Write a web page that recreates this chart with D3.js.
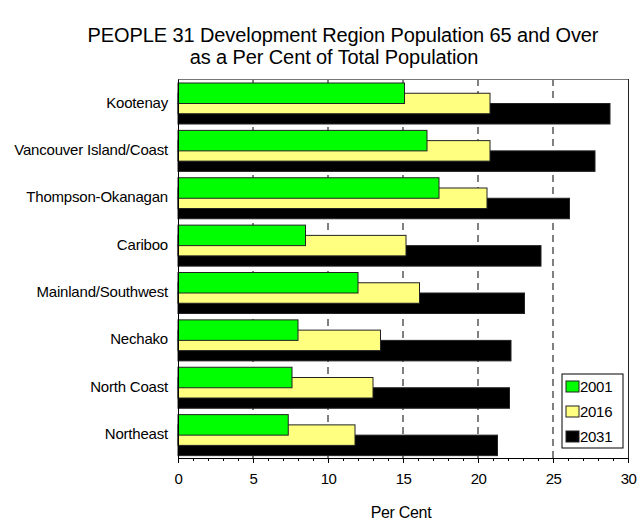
<!DOCTYPE html>
<html><head><meta charset="utf-8">
<script src="https://cdn.jsdelivr.net/npm/d3@7"></script>
<style>body{margin:0;background:#fff}svg{display:block;font-family:"Liberation Sans",Arial,sans-serif}</style>
</head><body><svg id="c" width="637" height="521"></svg>
<script>
const categories = ["Kootenay","Vancouver Island/Coast","Thompson-Okanagan","Cariboo","Mainland/Southwest","Nechako","North Coast","Northeast"];
const seriesNames = ["2001","2016","2031"];
const v2001 = [15.1,16.6,17.4,8.5,12.0,8.0,7.6,7.35];
const v2016 = [20.8,20.8,20.6,15.2,16.1,13.5,13.0,11.8];
const v2031 = [28.8,27.8,26.1,24.2,23.1,22.2,22.1,21.3];
const xTicks = [0,5,10,15,20,25,30];
const colors = ["#00ff00","#ffff80","#000000"];

const svg = d3.select("#c");
const L=178,R=628,T=79,B=458;
const x = d3.scaleLinear().domain([0,30]).range([L,R]);
const y = d3.scaleBand().domain(categories).range([T,B]);
const barH = 20.5, off = 10.25, pad = 4;

// gridlines
svg.append("g").selectAll("line").data(xTicks.filter(d=>d>0&&d<30)).join("line")
  .attr("x1",d=>x(d)).attr("x2",d=>x(d)).attr("y1",T).attr("y2",B)
  .attr("stroke","#000").attr("stroke-width",1).attr("stroke-dasharray","7,5");

const series = [v2031,v2016,v2001];
const sIdx = [2,1,0];
series.forEach((vals,k)=>{
  const i = sIdx[k];
  svg.append("g").selectAll("rect").data(categories).join("rect")
    .attr("x",x(0)).attr("y",d=>y(d)+pad+i*off)
    .attr("width",(d,j)=>x(vals[j])-x(0)).attr("height",barH)
    .attr("fill",colors[i]).attr("stroke","#222").attr("stroke-width",1);
});

// frame
svg.append("line").attr("x1",L).attr("x2",R).attr("y1",T+0.5).attr("y2",T+0.5).attr("stroke","#777");
svg.append("line").attr("x1",R+0.5).attr("x2",R+0.5).attr("y1",T).attr("y2",B).attr("stroke","#222");

// x axis
const xa = svg.append("g").attr("transform",`translate(0,${B})`)
  .call(d3.axisBottom(x).tickValues(xTicks).tickSize(5).tickPadding(10).tickSizeOuter(0));
xa.select(".domain").attr("stroke","#000");
xa.selectAll("text").attr("font-size",15).attr("font-family","Liberation Sans, Arial, sans-serif").attr("fill","#000").attr("letter-spacing","-0.5");
svg.append("g").attr("transform",`translate(0,${B})`)
  .call(d3.axisBottom(x).tickValues(d3.range(0,31).filter(d=>d%5)).tickSize(3).tickFormat(""))
  .select(".domain").remove();

// y axis
const ya = svg.append("g").attr("transform",`translate(${L},0)`)
  .call(d3.axisLeft(y).tickSize(0).tickPadding(10));
ya.select(".domain").attr("stroke","#000");
ya.selectAll("text").attr("font-size",15).attr("font-family","Liberation Sans, Arial, sans-serif").attr("fill","#000").attr("letter-spacing","-0.2");

// titles
svg.append("text").attr("x",343).attr("y",42).attr("text-anchor","middle").attr("font-size",20).attr("letter-spacing","-0.1")
  .text("PEOPLE 31 Development Region Population 65 and Over");
svg.append("text").attr("x",334).attr("y",64).attr("text-anchor","middle").attr("font-size",20).attr("letter-spacing","-0.1")
  .text("as a Per Cent of Total Population");
svg.append("text").attr("x",401).attr("y",518).attr("text-anchor","middle").attr("font-size",16).attr("letter-spacing","-0.3").text("Per Cent");

// legend
const lg = svg.append("g");
lg.append("rect").attr("x",562).attr("y",374).attr("width",61).attr("height",74).attr("fill","#fff").attr("stroke","#000");
seriesNames.forEach((n,i)=>{
  lg.append("rect").attr("x",566).attr("y",381+i*25).attr("width",13).attr("height",11).attr("fill",colors[i]).attr("stroke","#222");
  lg.append("text").attr("x",580).attr("y",392+i*25).attr("font-size",15).attr("letter-spacing","-0.3").text(n);
});
</script></body></html>
